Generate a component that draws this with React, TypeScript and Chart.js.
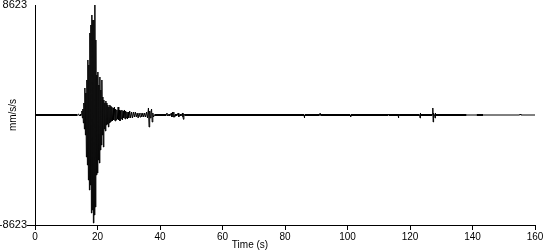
import React, { useEffect, useRef } from "react";
import { Chart, registerables } from "chart.js";

Chart.register(...registerables);

// ---- data ----
const X_TICKS = [0, 20, 40, 60, 80, 100, 120, 140, 160];
const Y_LIMIT = 8623;
const Y_TICKS = [-8623, 8623];
const X_TITLE = "Time (s)";
const Y_TITLE = "mm/s/s";

// pre-event noise
const PRE_TIMES = [0, 13.6, 14.0, 14.2, 14.4, 14.8];
const PRE_VALUES = [0, 0, 78, -78, 0, 0];

// main burst (s, mm/s/s)
const BURST_TIMES = [
  15.0, 15.16, 15.32, 15.48, 15.64, 15.8, 15.96, 16.12, 16.28, 16.44,
  16.6, 16.76, 16.92, 17.08, 17.24, 17.4, 17.56, 17.72, 17.88, 18.04,
  18.2, 18.36, 18.52, 18.68, 18.84, 19.0, 19.16, 19.32, 19.48, 19.64,
  19.8, 19.96, 20.12, 20.28, 20.44, 20.6, 20.76, 20.92, 21.08, 21.24,
  21.4, 21.56, 21.72, 21.88, 22.04, 22.2, 22.36, 22.52, 22.68, 22.84,
  23.0, 23.16, 23.32, 23.48, 23.64, 23.8, 23.96, 24.12, 24.28, 24.44,
  24.6, 24.76,
];
const BURST_VALUES = [
  314, -235, 470, -627, 941, -1098, 2117, -1568, 1725, -3293,
  2744, -3920, 4312, -5096, 3920, -5880, 6429, -5488, 7056, -7683,
  7840, -7448, 7448, -8467, 7448, -7840, 8623, -7213, 5880, -4704,
  3136, -4547, 3371, -3528, 2352, -3763, 2979, -2744, 1960, -2352,
  2744, -1568, 1411, -2509, 1176, -1098, 941, -1254, 1098, -784,
  941, -706, 784, -941, 627, -627, 784, -549, 706, -470,
  627, -470,
];

// coda
const CODA_TIMES = [
  25.0, 25.2, 25.4, 25.6, 25.8, 26.0, 26.2, 26.4, 26.6, 26.8,
  27.0, 27.2, 27.4, 27.6, 27.8, 28.0, 28.2, 28.4, 28.6, 28.8,
  29.0, 29.2, 29.4, 29.6, 29.8, 30.0, 30.3, 30.6, 30.9, 31.2,
  31.5, 31.8, 32.1, 32.4, 32.7, 33.0, 33.3, 33.6, 33.9, 34.2,
  34.5, 34.8, 35.1, 35.4, 35.7, 36.0, 36.3, 36.5, 36.7, 36.9,
  37.1, 37.3, 37.5, 37.7, 37.9, 38.2, 42.0, 42.2, 42.4, 42.6,
  43.4, 43.6, 43.8, 44.0, 44.2, 44.4, 44.6, 44.8, 45.6, 45.8,
  46.0, 46.2, 47.0, 47.2, 47.35, 47.5, 47.65, 47.8,
];
const CODA_VALUES = [
  549, -392, 627, -470, 470, -392, 392, -314, 627, -392,
  392, -470, 314, -314, 392, -392, 314, -235, 392, -314,
  314, -235, 235, -314, 235, -235, 314, -235, 235, -235,
  235, -157, 235, -157, 157, -235, 157, -157, 157, -157,
  157, -157, 157, -157, 235, -235, 549, -941, 314, -235,
  235, 470, -549, 157, -157, 0, 0, 157, -78, 0,
  0, 157, -157, 235, -157, 235, -157, 0, 0, 157,
  -157, 0, 0, 157, -157, -337, 78, 0,
];

// later small arrivals
const LATE_TIMES = [
  86.1, 86.2, 86.3, 91.1, 91.2, 91.3, 100.9, 101.0, 101.1,
  113.0, 113.1, 113.2, 116.2, 116.3, 116.4, 116.5,
  123.1, 123.2, 123.3, 123.4, 127.1, 127.3, 127.4, 127.5, 127.6,
  127.9, 128.0, 128.1, 128.2, 138.1, 141.3, 143.4,
  155.1, 155.2, 155.4, 155.5, 160.0,
];
const LATE_VALUES = [
  0, -235, 0, 0, 118, 0, 0, -157, 0,
  0, 78, 0, 0, -235, 78, 0,
  0, -235, 157, 0, 0, 549, -549, 157, 0,
  0, -235, 157, 0, 0, 0, 0,
  0, 78, 78, 0, 0,
];

const FONT = "'Liberation Sans', Arial, sans-serif";
const THICK_SPANS = [
  [0, 138.1],
  [141.3, 143.4],
];

function buildPoints() {
  const t = [...PRE_TIMES, ...BURST_TIMES, ...CODA_TIMES, ...LATE_TIMES];
  const v = [...PRE_VALUES, ...BURST_VALUES, ...CODA_VALUES, ...LATE_VALUES];
  return t.map((x, i) => ({ x, y: v[i] }));
}

const xTitlePlugin = {
  id: "xTitlePlugin",
  afterDraw(chart: any) {
    const { ctx, chartArea } = chart;
    ctx.save();
    ctx.font = `10px ${FONT}`;
    ctx.fillStyle = "#000";
    ctx.textAlign = "center";
    ctx.textBaseline = "middle";
    const cx = chartArea.left + (chartArea.right - chartArea.left) * 0.43;
    ctx.fillText(X_TITLE, cx, chartArea.bottom + 20);
    ctx.restore();
  },
};

export default function App() {
  const ref = useRef<HTMLCanvasElement | null>(null);

  useEffect(() => {
    document.body.style.margin = "0";
    const canvas = ref.current;
    if (!canvas) return;
    const chart = new Chart(canvas, {
      type: "line",
      data: {
        datasets: [
          {
            data: buildPoints(),
            borderColor: "#000",
            borderWidth: 1,
            pointRadius: 0,
            tension: 0,
            fill: false,
            segment: {
              borderWidth: (ctx: any) => {
                const a = ctx.p0.parsed;
                const b = ctx.p1.parsed;
                if (a.y !== 0 || b.y !== 0) return 1;
                return THICK_SPANS.some(([s, e]) => a.x >= s && b.x <= e) ? 2 : 1;
              },
            },
          },
        ],
      },
      options: {
        responsive: false,
        animation: false,
        devicePixelRatio: 1,
        layout: { padding: { top: 5, right: 15, left: 0, bottom: 0 } },
        plugins: {
          legend: { display: false },
          tooltip: { enabled: false },
        },
        scales: {
          x: {
            type: "linear",
            min: 0,
            max: 160,
            afterBuildTicks: (a: any) => {
              a.ticks = X_TICKS.map((value) => ({ value }));
            },
            afterFit: (s: any) => {
              s.height = 25;
              s.paddingLeft = 0;
              s.paddingRight = 0;
            },
            ticks: {
              color: "#000",
              font: { family: FONT, size: 10 },
              padding: 1,
              maxRotation: 0,
              autoSkip: false,
              callback: (v: any) => String(v),
            },
            grid: {
              drawOnChartArea: false,
              drawTicks: true,
              tickLength: 5,
              tickColor: "#000",
              color: "#000",
            },
            border: { display: true, color: "#000", width: 1 },
          },
          y: {
            type: "linear",
            min: -Y_LIMIT,
            max: Y_LIMIT,
            afterBuildTicks: (a: any) => {
              a.ticks = Y_TICKS.map((value) => ({ value }));
            },
            afterFit: (s: any) => {
              s.width = 35;
              s.paddingTop = 0;
              s.paddingBottom = 0;
            },
            ticks: {
              color: "#000",
              font: { family: FONT, size: 11 },
              padding: 0,
              autoSkip: false,
              callback: (v: any) => String(v),
            },
            grid: {
              drawOnChartArea: false,
              drawTicks: true,
              tickLength: 8,
              color: "#000",
              tickColor: (ctx: any) =>
                ctx.tick && ctx.tick.value < 0 ? "#000" : "rgba(0,0,0,0)",
            },
            border: { display: true, color: "#000", width: 1 },
            title: {
              display: true,
              text: Y_TITLE,
              color: "#000",
              font: { family: FONT, size: 10 },
              padding: { top: 7, bottom: 0 },
            },
          },
        },
      },
      plugins: [xTitlePlugin],
    });
    return () => chart.destroy();
  }, []);

  return (
    <div style={{ width: 550, height: 250, position: "relative" }}>
      <canvas ref={ref} width={550} height={250} style={{ display: "block" }} />
    </div>
  );
}
